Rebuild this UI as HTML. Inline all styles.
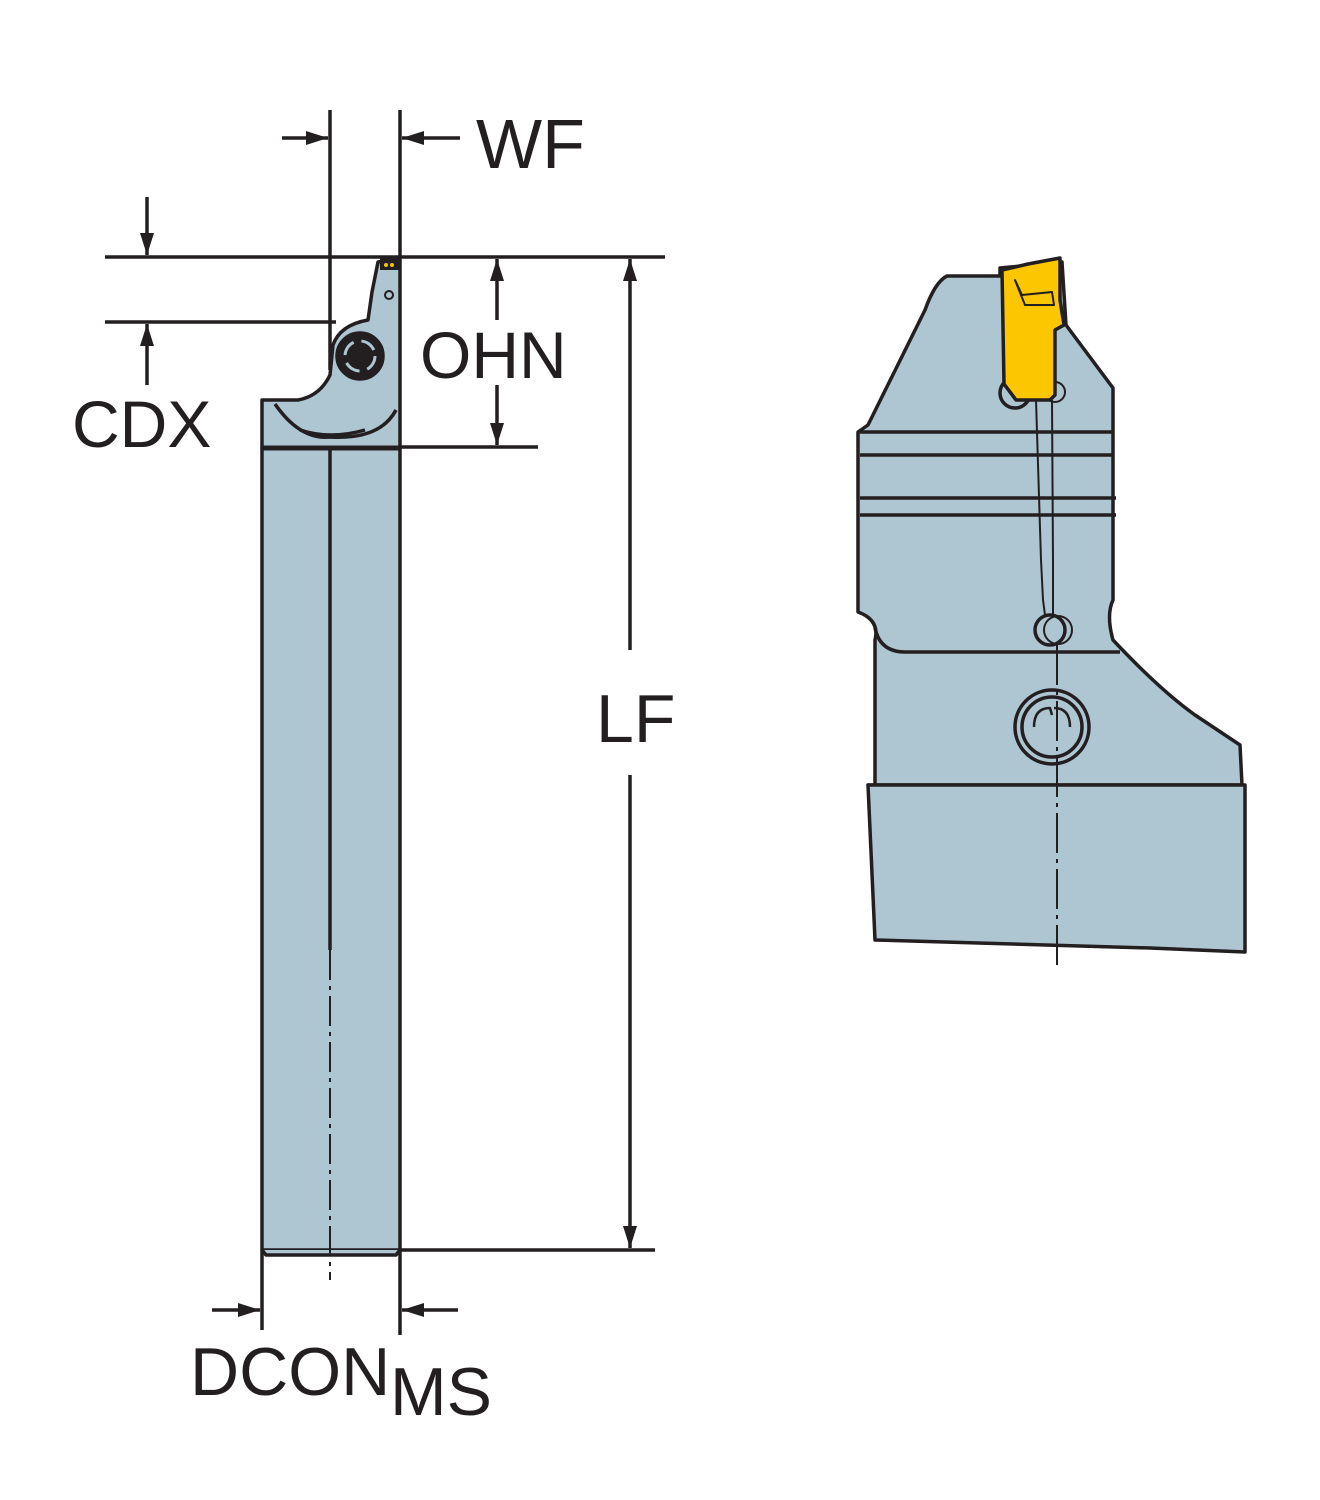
<!DOCTYPE html>
<html><head><meta charset="utf-8"><style>
html,body{margin:0;padding:0;background:#fff;}
svg{display:block;}
text{font-family:"Liberation Sans",sans-serif;fill:#231f20;}
</style></head><body>
<svg width="1320" height="1500" viewBox="0 0 1320 1500" xmlns="http://www.w3.org/2000/svg">
<defs>
<marker id="ah" markerWidth="22" markerHeight="16" refX="22" refY="8" orient="auto" markerUnits="userSpaceOnUse"><path d="M0,1 L22,8 L0,15 Z" fill="#231f20"/></marker>
</defs>
<g stroke="#231f20" stroke-width="3.5" fill="#aec5d2" stroke-linejoin="round">
<rect x="262" y="448" width="138" height="802"/>
<path d="M262,1250 L266,1255 L396,1255 L400,1250" fill="#aec5d2"/>
<path d="M262,448 L262,400 L298,400 Q320,396 330,375 L333,345 Q340,325 368,320 L372,292 L378,262 L400,258 L400,448 Z"/>
<path d="M275,404 Q300,440 330,437 Q380,440 396,410" fill="none"/>
<path d="M300,430 Q330,440 365,430" fill="none"/>
<line x1="262" y1="448" x2="400" y2="448" stroke-width="5"/>
<circle cx="360" cy="356" r="23" fill="#231f20"/>
<circle cx="360" cy="356" r="15" fill="none" stroke="#aec5d2" stroke-width="3" stroke-dasharray="16 8"/>
<circle cx="389" cy="295" r="4" fill="none" stroke-width="2"/>
<rect x="380" y="258" width="20" height="12" fill="#231f20" stroke="none"/>
<circle cx="386" cy="265" r="2" fill="#f5c400" stroke="none"/>
<circle cx="392" cy="265" r="2" fill="#f5c400" stroke="none"/>
<path d="M947,276 L1000,276 L1000,268 L1062,262 L1066,325 L1113,388 L1113,600 Q1106,615 1113,640 Q1160,690 1195,715 L1240,745 L1242,785 L868,785 L875,785 L875,640 Q880,620 858,612 L858,432 L868,425 L925,310 Q935,282 947,276 Z"/>
<path d="M868,785 L1245,785 L1245,952 L1150,948 L875,940 Z"/>
<line x1="860" y1="432" x2="1113" y2="432"/>
<line x1="860" y1="455" x2="1113" y2="455"/>
<line x1="860" y1="498" x2="1116" y2="498"/>
<line x1="860" y1="515" x2="1116" y2="515"/>
<path d="M875,628 Q880,652 905,652 L1120,652" fill="none"/>
<circle cx="1052" cy="727" r="37"/>
<circle cx="1052" cy="727" r="30"/>
<path d="M1034,727 Q1034,708 1050,708 L1052,715 M1070,727 Q1070,708 1054,708" fill="none" stroke-width="2.5"/>
<path d="M1036,400 L1041,560 L1043,600 L1045,615" fill="none" stroke-width="2"/>
<path d="M1052,400 L1053,560 L1053,615" fill="none" stroke-width="2"/>
<circle cx="1050" cy="630" r="15"/>
<circle cx="1058" cy="630" r="14" fill="none" stroke-width="2"/>
<circle cx="1015" cy="393" r="15"/>
<circle cx="1055" cy="392" r="10" fill="none" stroke-width="2"/>
<path d="M1002,270 L1028,264 L1060,258 L1060,300 L1064,325 L1055,330 L1055,395 L1050,400 L1016,400 L1004,384 Z" fill="#fcc600"/>
<path d="M1015,280 L1022,295 L1052,292 L1054,305 L1025,305 Z" fill="none" stroke-width="2"/>
</g>
<g stroke="#231f20" fill="none">
<line x1="330" y1="110" x2="330" y2="370" stroke-width="3.5"/>
<line x1="330" y1="450" x2="330" y2="950" stroke-width="3.5"/>
<line x1="330" y1="950" x2="330" y2="1280" stroke-width="2" stroke-dasharray="30 6 4 6"/>
<line x1="1057" y1="645" x2="1057" y2="970" stroke-width="2" stroke-dasharray="40 6 4 6"/>
<line x1="105" y1="257" x2="665" y2="257" stroke-width="3.5"/>
<line x1="105" y1="322" x2="336" y2="322" stroke-width="3.5"/>
<line x1="400" y1="447" x2="538" y2="447" stroke-width="3.5"/>
<line x1="400" y1="1250" x2="655" y2="1250" stroke-width="3.5"/>
<line x1="400" y1="110" x2="400" y2="258" stroke-width="3.5"/>
<line x1="262" y1="1250" x2="262" y2="1330" stroke-width="3.5"/>
<line x1="400" y1="1250" x2="400" y2="1335" stroke-width="3.5"/>
<g stroke-width="3.5" marker-end="url(#ah)">
<line x1="282" y1="138" x2="328" y2="138"/>
<line x1="460" y1="138" x2="402" y2="138"/>
<line x1="147" y1="197" x2="147" y2="255"/>
<line x1="147" y1="385" x2="147" y2="324"/>
<line x1="497" y1="320" x2="497" y2="259"/>
<line x1="497" y1="385" x2="497" y2="445"/>
<line x1="630" y1="650" x2="630" y2="259"/>
<line x1="630" y1="775" x2="630" y2="1248"/>
<line x1="212" y1="1310" x2="260" y2="1310"/>
<line x1="458" y1="1310" x2="402" y2="1310"/>
</g>
</g>
<text x="476" y="168" font-size="70">WF</text>
<text x="420" y="378" font-size="66">OHN</text>
<text x="72" y="447" font-size="66">CDX</text>
<text x="596" y="742" font-size="68">LF</text>
<text x="190" y="1395" font-size="68">DCON</text>
<text x="390" y="1415" font-size="68">MS</text>
</svg>
</body></html>
